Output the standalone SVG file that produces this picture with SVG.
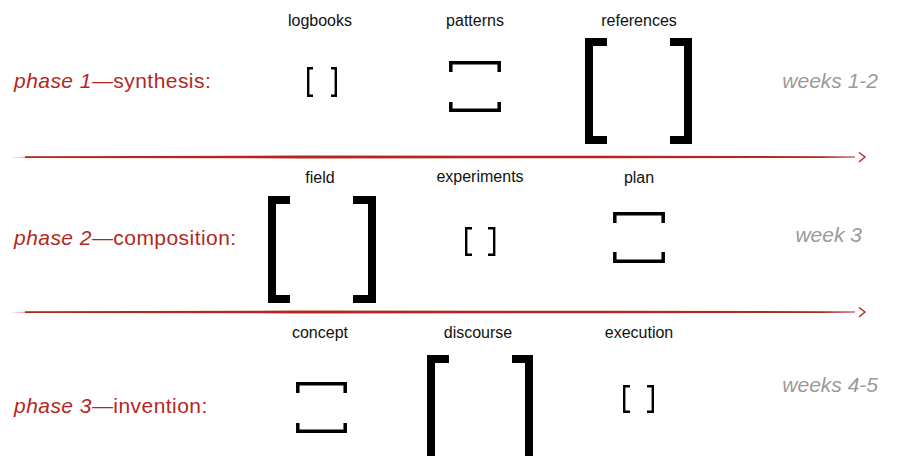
<svg xmlns="http://www.w3.org/2000/svg" width="897" height="456" viewBox="0 0 897 456">
<style>
  .lbl{font-family:"Liberation Sans",Arial,sans-serif;font-size:16px;fill:#111;text-anchor:middle}
  .ph{font-family:"Liberation Sans",Arial,sans-serif;font-size:21px;fill:#b3281e;letter-spacing:0.45px}
  .it{font-style:italic}
  .wk{font-family:"Liberation Sans",Arial,sans-serif;font-size:21px;font-style:italic;fill:#9a9a9a;text-anchor:end}
  .br{fill:none;stroke:#000;stroke-linecap:butt;stroke-linejoin:miter}
  .s{stroke-width:2.4}
  .m{stroke-width:3.5}
  .b{stroke-width:8}
  .ln{fill:#b3281e}
  .chev{fill:none;stroke:#b3281e;stroke-width:1.4}
</style>
<rect width="897" height="456" fill="#fff"/>

<g id="phase1">
  <text class="ph" x="14" y="88"><tspan class="it">phase 1</tspan>—synthesis:</text>
  <text class="wk" x="878" y="88">weeks 1-2</text>
</g>
<g id="phase2">
  <text class="ph" x="14" y="245"><tspan class="it">phase 2</tspan>—composition:</text>
  <text class="wk" x="862" y="242">week 3</text>
</g>
<g id="phase3">
  <text class="ph" x="14" y="413"><tspan class="it">phase 3</tspan>—invention:</text>
  <text class="wk" x="878" y="392">weeks 4-5</text>
</g>

<g id="logbooks">
  <text class="lbl" x="320" y="26">logbooks</text>
  <path class="br s" d="M313 68.2H308.2V95.8H313M331 68.2H335.8V95.8H331"/>
</g>
<g id="patterns">
  <text class="lbl" x="475" y="26">patterns</text>
  <path class="br m" d="M450.8 72V62.8H499.2V72M450.8 102V110.2H499.2V102"/>
</g>
<g id="references">
  <text class="lbl" x="639" y="26">references</text>
  <path class="br b" d="M607 42H589V140H607M670 42H688V140H670"/>
</g>

<g id="field">
  <text class="lbl" x="320" y="183">field</text>
  <path class="br b" d="M290 200H272V299H290M353 200H372V299H353"/>
</g>
<g id="experiments">
  <text class="lbl" x="480" y="182">experiments</text>
  <path class="br s" d="M472 228.2H466.2V254.8H472M488 228.2H494.2V254.8H488"/>
</g>
<g id="plan">
  <text class="lbl" x="639" y="183">plan</text>
  <path class="br m" d="M614.8 223V213.8H663.2V223M614.8 252V261.2H663.2V252"/>
</g>

<g id="concept">
  <text class="lbl" x="320" y="338">concept</text>
  <path class="br m" d="M297.8 393V383.8H345.2V393M297.8 423V431.2H345.2V423"/>
</g>
<g id="discourse">
  <text class="lbl" x="478" y="338">discourse</text>
  <path class="br b" d="M449 359H431V462H449M512 359H529V462H512"/>
</g>
<g id="execution">
  <text class="lbl" x="639" y="338">execution</text>
  <path class="br s" d="M630 386.2H624.2V411.8H630M647 386.2H652.8V411.8H647"/>
</g>

<g id="connectors">
  <g id="arrow1">
    <path class="ln" opacity="0.35" d="M10 157.2L30 156.4L30 158.2Z"/>
    <path class="ln" d="M25 156.3L300 155.6L600 155.8L820 156.2L855 156.6L855 157.6L820 158L600 158.3L300 158.4L25 158Z"/>
    <path class="chev" d="M859 152.5L865 157L859 162"/>
  </g>
  <g id="arrow2">
    <path class="ln" opacity="0.35" d="M10 312.2L30 311.4L30 313.2Z"/>
    <path class="ln" d="M25 311.3L300 310.6L600 310.8L820 311.2L855 311.6L855 312.6L820 313L600 313.3L300 313.4L25 313Z"/>
    <path class="chev" d="M859 307.5L865 312L859 317"/>
  </g>
</g>
</svg>
